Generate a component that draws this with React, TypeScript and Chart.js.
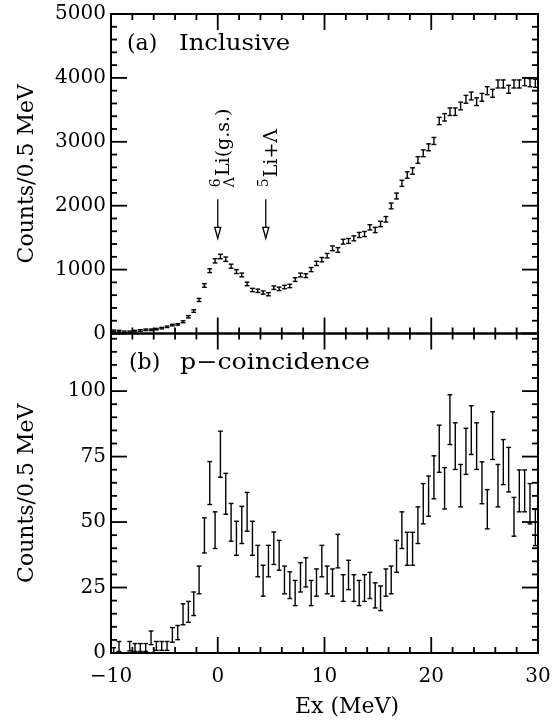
import React, { useEffect, useRef } from 'react';
import { Chart, registerables } from 'chart.js';

Chart.register(...registerables);

// Bin centres (MeV), 0.5 MeV bins
const energies = [
  -9.75, -9.25, -8.75, -8.25, -7.75, -7.25, -6.75, -6.25, -5.75, -5.25,
  -4.75, -4.25, -3.75, -3.25, -2.75, -2.25, -1.75, -1.25, -0.75, -0.25,
  0.25, 0.75, 1.25, 1.75, 2.25, 2.75, 3.25, 3.75, 4.25, 4.75,
  5.25, 5.75, 6.25, 6.75, 7.25, 7.75, 8.25, 8.75, 9.25, 9.75,
  10.25, 10.75, 11.25, 11.75, 12.25, 12.75, 13.25, 13.75, 14.25, 14.75,
  15.25, 15.75, 16.25, 16.75, 17.25, 17.75, 18.25, 18.75, 19.25, 19.75,
  20.25, 20.75, 21.25, 21.75, 22.25, 22.75, 23.25, 23.75, 24.25, 24.75,
  25.25, 25.75, 26.25, 26.75, 27.25, 27.75, 28.25, 28.75, 29.25, 29.75,
];

// (a) Inclusive spectrum
const inclusiveCounts = [
  42, 37, 26, 26, 37, 47, 58, 58, 68, 84,
  105, 131, 142, 184, 262, 352, 525, 752, 983, 1137,
  1205, 1163, 1053, 969, 916, 776, 681, 668, 641, 615,
  717, 699, 728, 744, 844, 915, 905, 1000, 1097, 1155,
  1218, 1333, 1307, 1437, 1448, 1489, 1542, 1557, 1661, 1620,
  1714, 1787, 1996, 2152, 2350, 2480, 2543, 2715, 2820, 2914,
  3013, 3326, 3383, 3471, 3471, 3560, 3665, 3717, 3628, 3696,
  3800, 3759, 3905, 3905, 3822, 3905, 3905, 3941, 3925, 3915,
];
const inclusiveErrors = [
  12, 12, 12, 12, 12, 12, 12, 12, 12, 12,
  12, 12, 12, 15, 18, 20, 24, 28, 30, 33,
  35, 34, 32, 31, 30, 28, 26, 26, 25, 25,
  27, 27, 27, 27, 29, 30, 30, 32, 33, 34,
  35, 37, 37, 38, 38, 39, 40, 40, 41, 41,
  42, 43, 45, 46, 48, 50, 50, 52, 53, 54,
  55, 57, 58, 59, 59, 60, 61, 61, 60, 61,
  62, 62, 63, 63, 62, 63, 63, 63, 63, 63,
];

// (b) p-coincidence spectrum
const coincCounts = [
  1.0, 2.5, null, 2.6, 2.1, 2.1, 2.1, 5.8, 2.7, 2.7,
  2.7, 6.9, 7.8, 14.8, 15.7, 18.8, 27.9, 44.9, 64.9, 46.9,
  75.9, 60.8, 49.9, 43.8, 48.9, 53.9, 43.8, 35.1, 27.6, 35.1,
  40.0, 37.3, 27.9, 25.9, 22.9, 28.9, 30.8, 22.9, 26.9, 35.1,
  27.9, 26.9, 38.9, 24.8, 29.8, 24.8, 22.9, 24.8, 25.8, 22.0,
  20.9, 26.9, 27.9, 36.9, 46.9, 39.8, 39.8, 48.8, 57.0, 59.9,
  67.1, 78.0, 62.9, 89.1, 79.0, 63.9, 77.0, 85.1, 79.0, 65.0,
  54.9, 83.0, 63.9, 72.9, 70.0, 52.0, 61.9, 61.9, 57.0, 47.9,
];
const coincErrors = [
  1.0, 1.9, 0, 1.8, 1.5, 1.5, 1.5, 2.6, 1.7, 1.7,
  1.7, 2.8, 2.7, 4.0, 4.0, 4.5, 5.3, 6.7, 8.2, 7.0,
  8.8, 7.8, 7.2, 6.5, 7.1, 7.4, 6.5, 6.0, 5.9, 6.0,
  6.2, 5.7, 5.3, 5.1, 4.8, 5.6, 5.6, 4.8, 5.2, 6.0,
  5.3, 5.2, 6.4, 5.1, 5.6, 5.1, 4.8, 5.1, 5.0, 4.8,
  4.7, 5.2, 5.3, 6.1, 7.0, 6.3, 6.3, 7.0, 7.7, 7.7,
  8.2, 9.0, 7.9, 9.5, 8.9, 8.1, 8.8, 9.3, 8.9, 8.0,
  7.5, 9.1, 8.1, 8.6, 8.5, 7.4, 8.0, 8.0, 7.7, 6.9,
];

// Axes
const xTickValues = [-10, 0, 10, 20, 30];
const xTickLabels = ['\u221210', '0', '10', '20', '30'];
const topTickValues = [0, 1000, 2000, 3000, 4000, 5000];
const topTickLabels = ['0', '1000', '2000', '3000', '4000', '5000'];
const bottomTickValues = [0, 25, 50, 75, 100];
const bottomTickLabels = ['0', '25', '50', '75', '100'];

// Annotations in panel (a)
const markerEnergies = [0, 4.5];
const markerSup = ['6', '5'];
const markerSub = ['\u039B', ''];
const markerMain = ['Li(g.s.)', 'Li+\u039B'];
const arrowFrom = 2100;
const arrowTo = 1490;
const labelStart = 2290;

const SERIF = '"DejaVu Serif", serif';
const INK = '#000000';

function seg(ctx: CanvasRenderingContext2D, x1: number, y1: number, x2: number, y2: number) {
  ctx.beginPath();
  ctx.moveTo(x1, y1);
  ctx.lineTo(x2, y2);
  ctx.stroke();
}

const framePlugin = {
  id: 'framePlugin',
  afterDraw(chart: any) {
    const ctx: CanvasRenderingContext2D = chart.ctx;
    const xs = chart.scales.x;
    const yT = chart.scales.yTop;
    const yB = chart.scales.yBottom;
    ctx.save();
    ctx.strokeStyle = INK;
    ctx.fillStyle = INK;

    // error bars
    chart.data.datasets.forEach((ds: any) => {
      const ys = chart.scales[ds.yAxisID];
      const errs: number[] = ds.errors;
      ctx.lineWidth = 1.4;
      ds.data.forEach((p: any, i: number) => {
        if (p.y == null) return;
        const e = errs[i];
        const px = xs.getPixelForValue(p.x);
        let yLo = ys.getPixelForValue(p.y - e);
        let yHi = ys.getPixelForValue(p.y + e);
        const loClip = yLo > ys.bottom;
        const hiClip = yHi < ys.top;
        yLo = Math.min(yLo, ys.bottom);
        yHi = Math.max(yHi, ys.top);
        const cap = 2.4;
        seg(ctx, px, yLo, px, yHi);
        if (!loClip) seg(ctx, px - cap, yLo, px + cap, yLo);
        if (!hiClip) seg(ctx, px - cap, yHi, px + cap, yHi);
      });
    });

    const left = xs.left;
    const right = xs.right;
    const major = 16;
    const minor = 6;
    const tw = 1.8;

    // inward ticks on all four sides of each panel
    const panels = [
      { s: yT, step: 200, majorStep: 1000, max: 5000 },
      { s: yB, step: 5, majorStep: 25, max: 122 },
    ];
    for (const pn of panels) {
      const s = pn.s;
      const top = s.top;
      const bottom = s.bottom;
      for (let k = 0; k <= 20; k++) {
        const px = xs.getPixelForValue(-10 + 2 * k);
        const len = k % 5 === 0 ? major : minor;
        ctx.fillRect(px - tw / 2, bottom - len, tw, len);
        ctx.fillRect(px - tw / 2, top, tw, len);
      }
      const n = Math.floor(pn.max / pn.step);
      const per = Math.round(pn.majorStep / pn.step);
      for (let k = 0; k <= n; k++) {
        const py = s.getPixelForValue(k * pn.step);
        const len = k % per === 0 ? major : minor;
        ctx.fillRect(left, py - tw / 2, len, tw);
        ctx.fillRect(right - len, py - tw / 2, len, tw);
      }
    }
    ctx.lineWidth = 2;
    for (const pn of panels) {
      ctx.strokeRect(left, pn.s.top, right - left, pn.s.bottom - pn.s.top);
    }

    // tick labels
    ctx.font = '20px ' + SERIF;
    ctx.textAlign = 'right';
    ctx.textBaseline = 'middle';
    topTickValues.forEach((v, i) => ctx.fillText(topTickLabels[i], 106, yT.getPixelForValue(v)));
    bottomTickValues.forEach((v, i) => ctx.fillText(bottomTickLabels[i], 106, yB.getPixelForValue(v)));
    ctx.textAlign = 'center';
    xTickValues.forEach((v, i) => ctx.fillText(xTickLabels[i], xs.getPixelForValue(v), 677));

    // axis titles
    ctx.font = '22px ' + SERIF;
    ctx.fillText('Ex (MeV)', 347, 707);
    [yT, yB].forEach((s) => {
      ctx.save();
      ctx.translate(27, (s.top + s.bottom) / 2);
      ctx.rotate(-Math.PI / 2);
      ctx.fillText('Counts/0.5 MeV', 0, 0);
      ctx.restore();
    });

    // panel labels
    ctx.textAlign = 'left';
    ctx.textBaseline = 'alphabetic';
    const drawStretched = (t: string, x: number, y: number, sx: number) => {
      ctx.save();
      ctx.translate(x, y);
      ctx.scale(sx, 1);
      ctx.fillText(t, 0, 0);
      ctx.restore();
    };
    ctx.font = '22px ' + SERIF;
    ctx.fillText('(a)', 127, yT.top + 36);
    drawStretched('Inclusive', 179, yT.top + 36, 1.11);
    ctx.fillText('(b)', 129, yB.top + 35);
    drawStretched('p\u2212coincidence', 180, yB.top + 35, 1.15);

    // arrows + nuclide labels
    markerEnergies.forEach((en, i) => {
      const px = xs.getPixelForValue(en);
      const y0 = yT.getPixelForValue(arrowFrom);
      const y1 = yT.getPixelForValue(arrowTo);
      ctx.lineWidth = 1.3;
      seg(ctx, px, y0, px, y1 - 11);
      ctx.beginPath();
      ctx.moveTo(px - 3, y1 - 11);
      ctx.lineTo(px + 3, y1 - 11);
      ctx.lineTo(px, y1);
      ctx.closePath();
      ctx.stroke();

      ctx.save();
      ctx.translate(px + 11.5, yT.getPixelForValue(labelStart));
      ctx.rotate(-Math.PI / 2);
      ctx.textAlign = 'left';
      ctx.textBaseline = 'alphabetic';
      ctx.font = '14px ' + SERIF;
      const w1 = ctx.measureText(markerSup[i]).width;
      ctx.fillText(markerSup[i], 0, -9);
      let w2 = 0;
      if (markerSub[i]) {
        w2 = ctx.measureText(markerSub[i]).width;
        ctx.fillText(markerSub[i], 0, 5);
      }
      ctx.font = '19px ' + SERIF;
      ctx.fillText(markerMain[i], Math.max(w1, w2) + 1, 0);
      ctx.restore();
    });

    ctx.restore();
  },
};

export default function App() {
  const ref = useRef<HTMLCanvasElement>(null);
  useEffect(() => {
    const canvas = ref.current;
    if (!canvas) return;
    const hidden = {
      grid: { display: false },
      border: { display: false },
      ticks: { display: false },
      title: { display: false },
    };
    const chart = new Chart(canvas, {
      type: 'scatter',
      data: {
        datasets: [
          {
            label: 'p-coincidence',
            data: energies.map((x, i) => ({ x, y: coincCounts[i] })),
            yAxisID: 'yBottom',
            errors: coincErrors,
            pointRadius: 0,
            showLine: false,
          } as any,
          {
            label: 'Inclusive',
            data: energies.map((x, i) => ({ x, y: inclusiveCounts[i] })),
            yAxisID: 'yTop',
            errors: inclusiveErrors,
            pointRadius: 0,
            showLine: false,
          } as any,
        ],
      },
      options: {
        animation: false,
        responsive: false,
        layout: { padding: { left: 111, right: 18, top: 14, bottom: 70 } },
        plugins: { legend: { display: false }, tooltip: { enabled: false } },
        scales: {
          x: { type: 'linear', min: -10, max: 30, ...hidden, afterFit: (s: any) => { s.height = 0; } },
          yBottom: { type: 'linear', position: 'left', stack: 'panels', stackWeight: 1, min: 0, max: 122, ...hidden, afterFit: (s: any) => { s.width = 0; } },
          yTop: { type: 'linear', position: 'left', stack: 'panels', stackWeight: 1, min: 0, max: 5000, ...hidden, afterFit: (s: any) => { s.width = 0; } },
        },
      } as any,
      plugins: [framePlugin],
    });
    return () => chart.destroy();
  }, []);
  return (
    <div style={{ position: 'fixed', left: 0, top: 0, width: 556, height: 723, background: '#fff' }}>
      <canvas ref={ref} width={556} height={723} style={{ width: 556, height: 723, display: 'block' }} />
    </div>
  );
}
